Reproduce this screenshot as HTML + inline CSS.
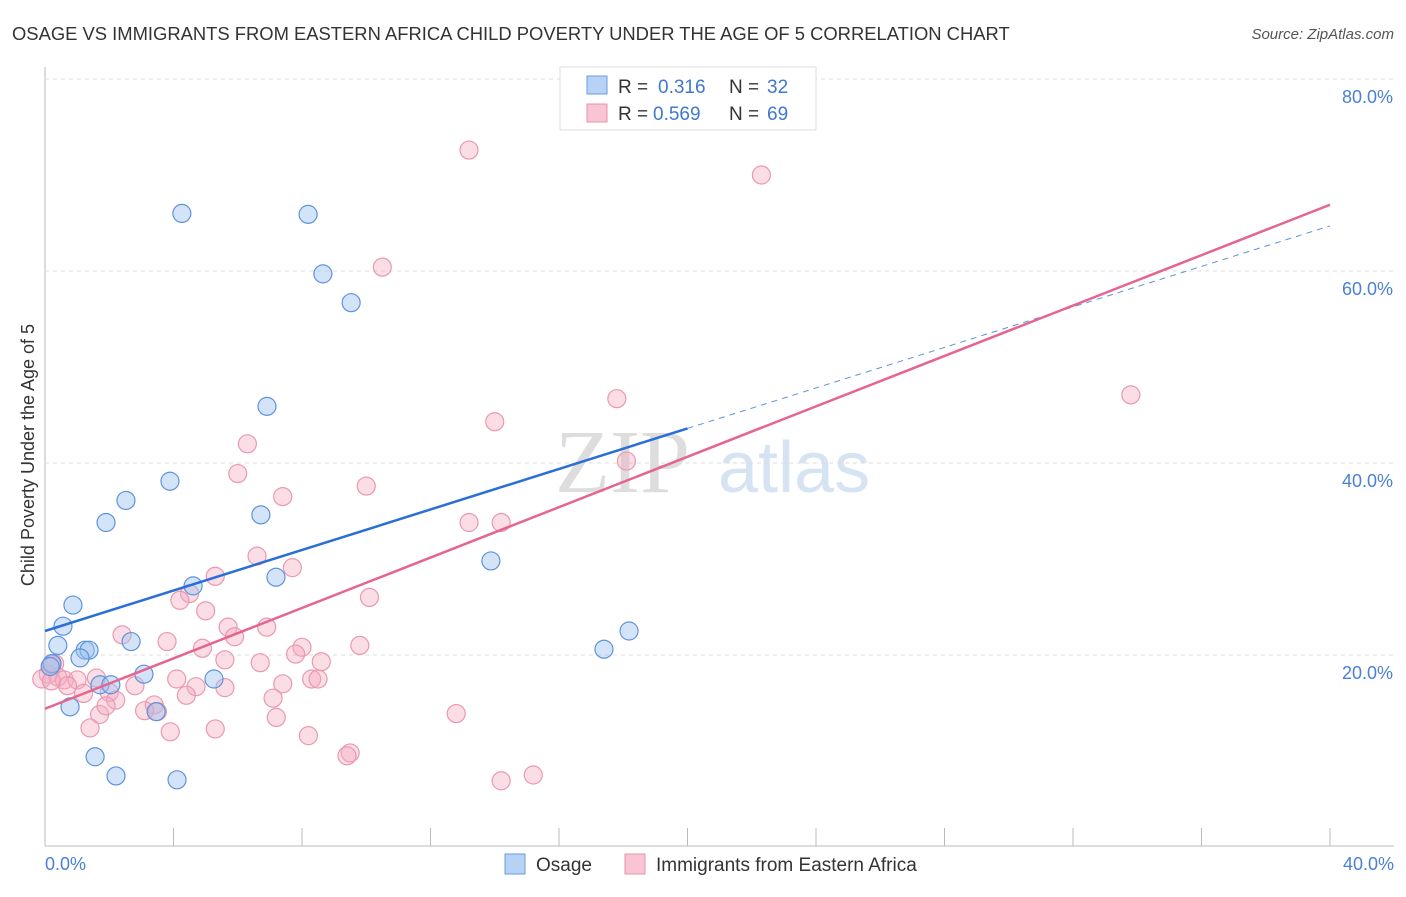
<!DOCTYPE html>
<html><head><meta charset="utf-8"><style>
body{margin:0;background:#fff;font-family:"Liberation Sans",sans-serif}
</style></head><body>
<svg id="c" width="1406" height="892" xmlns="http://www.w3.org/2000/svg" font-family="Liberation Sans, sans-serif">
<text x="12" y="40" font-size="18.4" fill="#333">OSAGE VS IMMIGRANTS FROM EASTERN AFRICA CHILD POVERTY UNDER THE AGE OF 5 CORRELATION CHART</text>
<text x="1394" y="39" font-size="15" fill="#555" text-anchor="end" font-style="italic">Source: ZipAtlas.com</text>
<text x="555" y="492" font-size="90" fill="#ddd" font-family="Liberation Serif, serif">ZIP</text>
<text x="718" y="492" font-size="72" fill="#d6e3f3">atlas</text>
<g id="grid"></g><g id="pts"></g><g id="lines"></g>
<text transform="translate(34,455) rotate(-90)" font-size="18" fill="#333" text-anchor="middle">Child Poverty Under the Age of 5</text>
<text x="45" y="870" font-size="18" fill="#4a7fd4">0.0%</text>
<text x="1394" y="870" font-size="18" fill="#4a7fd4" text-anchor="end">40.0%</text>
<g>
<rect x="560" y="67" width="256" height="63" fill="#fff" stroke="#ddd"/>
<rect x="587" y="76" width="20" height="18" fill="#b7d2f5" stroke="#6a9be0"/>
<rect x="587" y="104" width="20" height="18" fill="#f9c4d3" stroke="#e890ab"/>
<text x="618" y="93" font-size="19" fill="#333">R =</text><text x="658" y="93" font-size="19" fill="#3f78d0">0.316</text>
<text x="729" y="93" font-size="19" fill="#333">N =</text><text x="767" y="93" font-size="19" fill="#3f78d0">32</text>
<text x="618" y="120" font-size="19" fill="#333">R =</text><text x="653" y="120" font-size="19" fill="#3f78d0">0.569</text>
<text x="729" y="120" font-size="19" fill="#333">N =</text><text x="767" y="120" font-size="19" fill="#3f78d0">69</text>
</g>
<g><rect x="505" y="854" width="20" height="20" fill="#b7d2f5" stroke="#6a9be0"/><text x="536" y="871" font-size="19" fill="#333">Osage</text></g>
<g><rect x="625" y="854" width="20" height="20" fill="#f9c4d3" stroke="#e890ab"/><text x="656" y="871" font-size="19" fill="#333">Immigrants from Eastern Africa</text></g>
</svg>
<script>
const yTicks=[20,40,60,80];
const xTicks=[0,4,8,12,16,20,24,28,32,36,40];
const osageX=[4.26,8.19,8.65,9.53,6.91,3.89,2.52,1.90,6.72,4.61,7.19,13.88,0.87,0.56,0.40,2.68,1.25,1.37,1.09,0.22,3.08,5.26,1.71,2.05,0.78,3.46,17.4,18.18,1.56,2.21,4.11,0.16];
const osageY=[66.0,65.9,59.7,56.7,45.9,38.1,36.1,33.8,34.6,27.2,28.1,29.8,25.2,23.0,21.0,21.4,20.5,20.5,19.7,19.1,18.0,17.5,16.9,16.9,14.6,14.1,20.6,22.5,9.4,7.4,7.0,18.8];
const immX=[13.2,22.3,10.5,33.8,17.8,14.0,18.1,6.3,6.0,10.0,7.4,13.2,14.2,6.6,7.7,5.3,4.5,4.2,10.1,5.0,5.7,5.9,6.9,2.4,3.8,8.0,9.8,7.8,4.9,5.6,8.6,6.7,0.3,0.1,0.4,0.6,1.0,1.6,2.8,4.1,8.3,8.5,7.4,5.6,4.7,1.2,2.0,2.2,3.4,4.4,7.1,3.5,3.1,1.7,1.9,1.4,3.9,5.3,7.2,8.2,9.5,9.4,12.8,14.2,15.2,-0.1,0.2,0.7,0.2];
const immY=[72.6,70.0,60.4,47.1,46.7,44.3,40.2,42.0,38.9,37.6,36.5,33.8,33.8,30.3,29.1,28.2,26.4,25.7,26.0,24.6,22.9,21.9,22.9,22.1,21.4,20.8,21.0,20.1,20.7,19.5,19.3,19.2,19.1,18.0,17.7,17.4,17.4,17.6,16.8,17.5,17.5,17.5,17.0,16.6,16.7,16.0,16.1,15.3,14.8,15.8,15.5,14.1,14.2,13.8,14.7,12.4,12.0,12.3,13.5,11.6,9.8,9.5,13.9,6.9,7.5,17.5,19.0,16.8,17.3];
const bFit=[22.5,43.6], pFit=[14.4,66.9];
const X=v=>45+v/40*1285, Y=v=>847-v*9.6;
const NS='http://www.w3.org/2000/svg';
function mk(p,t,a){const e=document.createElementNS(NS,t);for(const k in a)e.setAttribute(k,a[k]);p.appendChild(e);return e;}
const g=document.getElementById('grid');
const ax=mk(g,'line',{x1:45,y1:67,x2:45,y2:846,stroke:'#bbb'});


const bx=mk(g,'line',{x1:45,y1:846,x2:1394,y2:846,stroke:'#bbb'});


yTicks.forEach(t=>{
 const l=mk(g,'line',{x1:45,y1:Y(t),x2:1394,y2:Y(t),stroke:'#ddd','stroke-dasharray':'4,4'});
 
 
 const tx=mk(g,'text',{x:1393,y:Y(t)+24,'font-size':18,fill:'#4a7fd4','text-anchor':'end'});
 tx.textContent=t.toFixed(1)+'%';
 
 
});
xTicks.forEach(t=>{
 const l=mk(g,'line',{x1:X(t),y1:828,x2:X(t),y2:846,stroke:'#bbb'});
 
 
});
const P=document.getElementById('pts');
immX.forEach((x,i)=>{const c=mk(P,'circle',{cx:X(x),cy:Y(immY[i]),r:9,fill:'rgba(245,170,192,0.4)',stroke:'#e899b0','stroke-width':1.2});
 
 });
osageX.forEach((x,i)=>{const c=mk(P,'circle',{cx:X(x),cy:Y(osageY[i]),r:9,fill:'rgba(160,196,240,0.45)',stroke:'#5e93dc','stroke-width':1.2});
 
 });
const L=document.getElementById('lines');
const bf=x=>bFit[0]+(bFit[1]-bFit[0])*x/20, pf=x=>pFit[0]+(pFit[1]-pFit[0])*x/40;
const d=mk(L,'line',{x1:X(20),y1:Y(bf(20)),x2:X(40),y2:Y(bf(40)),stroke:'#5e93dc','stroke-width':1,'stroke-dasharray':'6,5'});


const pl=mk(L,'line',{x1:X(0),y1:Y(pf(0)),x2:X(40),y2:Y(pf(40)),stroke:'#e56590','stroke-width':2.5});


const bl=mk(L,'line',{x1:X(0),y1:Y(bf(0)),x2:X(20),y2:Y(bf(20)),stroke:'#2a6fd6','stroke-width':2.5});


</script>
</body></html>
